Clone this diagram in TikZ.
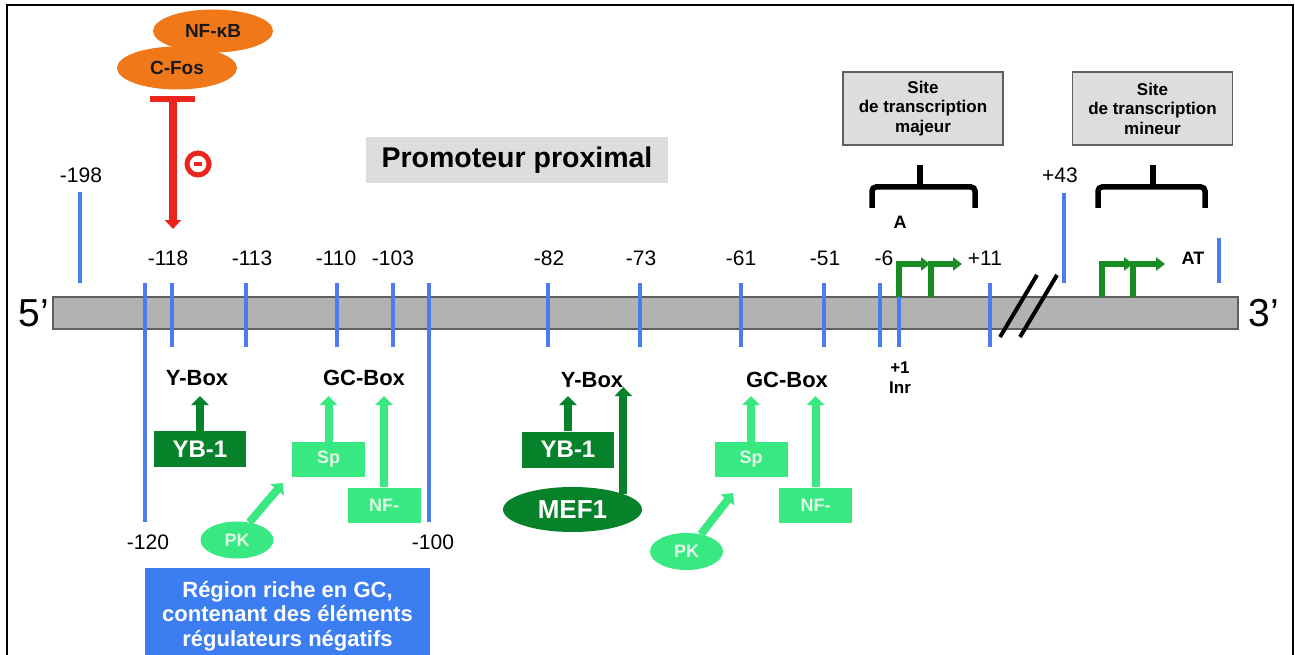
\documentclass[tikz,border=0pt]{standalone}
\usepackage{fontspec}
\setmainfont{Liberation Sans}
\usetikzlibrary{arrows.meta,shapes.geometric}

\definecolor{tickblue}{RGB}{74,124,240}
\definecolor{bargray}{RGB}{178,178,178}
\definecolor{bardark}{RGB}{95,95,95}
\definecolor{fosorange}{RGB}{240,120,24}
\definecolor{inhred}{RGB}{236,36,28}
\definecolor{darkgreen}{RGB}{6,130,42}
\definecolor{lightgreen}{RGB}{56,232,128}
\definecolor{paletext}{RGB}{225,252,232}
\definecolor{tssgreen}{RGB}{22,140,34}
\definecolor{boxblue}{RGB}{60,126,242}
\definecolor{boxgray}{RGB}{221,221,221}

\tikzset{
  bluetick/.style={tickblue, line width=4pt},
  posnum/.style={font=\fontsize{21}{25}\selectfont, inner sep=0pt},
  boxname/.style={font=\bfseries\fontsize{22}{26}\selectfont, inner sep=0pt},
  darkfactor/.style={fill=darkgreen, text=white, font=\bfseries\fontsize{24}{28}\selectfont, minimum width=92pt, minimum height=36pt, inner sep=0pt},
  lightfactor/.style={fill=lightgreen, text=paletext, font=\bfseries\fontsize{18}{21}\selectfont, minimum width=73pt, minimum height=35pt, inner sep=0pt},
  pkblob/.style={ellipse, fill=lightgreen, text=paletext, font=\bfseries\fontsize{18}{21}\selectfont, minimum width=73pt, minimum height=37pt, inner sep=0pt},
  orangeblob/.style={ellipse, fill=fosorange, text=black!90, font=\bfseries\fontsize{19}{22}\selectfont, minimum width=120pt, minimum height=43pt, inner sep=0pt},
  darkarrow/.style={darkgreen, line width=8pt, -{Triangle[width=17pt,length=9pt]}},
  lightarrow/.style={lightgreen, line width=8pt, -{Triangle[width=17pt,length=9pt]}},
  tssarrow/.style={tssgreen, line width=6pt, -{Triangle[width=13pt,length=9pt]}},
  inhibit/.style={inhred, line width=8pt, -{Triangle[width=16pt,length=9pt]}},
  sitebox/.style={draw=bardark, fill=boxgray, line width=1.5pt, minimum width=160pt, minimum height=73pt, align=center, font=\bfseries\fontsize{17}{19.5}\selectfont},
  bracket/.style={line width=5.5pt, rounded corners=4pt},
}

\begin{document}
\begin{tikzpicture}[x=1pt,y=-1pt]
\useasboundingbox (0,0) rectangle (1295,655);
\draw[line width=2.5pt] (7,665) -- (7,5) -- (1293,5) -- (1293,665);

\draw[draw=bardark, fill=bargray, line width=1.5pt] (53,297) rectangle (1238,329);
\node[font=\fontsize{39}{44}\selectfont, inner sep=0pt] (five) at (34,313) {5’};
\node[font=\fontsize{39}{44}\selectfont, inner sep=0pt] (three) at (1264,313) {3’};

\draw[bluetick] (80,192) -- (80,283);
\draw[bluetick] (145,283) -- (145,522);
\draw[bluetick] (172,283) -- (172,347);
\draw[bluetick] (246,283) -- (246,347);
\draw[bluetick] (337,283) -- (337,347);
\draw[bluetick] (393,283) -- (393,347);
\draw[bluetick] (429,283) -- (429,522);
\draw[bluetick] (548,283) -- (548,347);
\draw[bluetick] (640,283) -- (640,347);
\draw[bluetick] (741,283) -- (741,347);
\draw[bluetick] (824,283) -- (824,347);
\draw[bluetick] (880,283) -- (880,347);
\draw[bluetick] (899,283) -- (899,347);
\draw[bluetick] (990,283) -- (990,347);
\draw[bluetick] (1064,193) -- (1064,283);
\draw[bluetick] (1219,238) -- (1219,283);

\node[posnum] (p198) at (81,175) {-198};
\node[posnum] (p118) at (168,258) {-118};
\node[posnum] (p113) at (252,258) {-113};
\node[posnum] (p110) at (336,258) {-110};
\node[posnum] (p103) at (393,258) {-103};
\node[posnum] (p82) at (549,258) {-82};
\node[posnum] (p73) at (641,258) {-73};
\node[posnum] (p61) at (741,258) {-61};
\node[posnum] (p51) at (825,258) {-51};
\node[posnum] (p6) at (884,258) {-6};
\node[posnum] (p11) at (985,258) {+11};
\node[posnum] (p43) at (1060,175) {+43};
\node[posnum] (p120) at (148,542) {-120};
\node[posnum] (p100) at (433,542) {-100};

\draw[tssarrow] (899,297) |- (930,264);
\draw[tssarrow] (931,297) |- (962,264);
\draw[tssarrow] (1102,297) |- (1133,264);
\draw[tssarrow] (1133,297) |- (1165,264);

\draw[line width=4pt] (1000,337) -- (1037,275);
\draw[line width=4pt] (1020,337) -- (1057,275);

\node[fill=boxgray, minimum width=302pt, minimum height=46pt, inner sep=0pt, font=\bfseries\fontsize{28.5}{32}\selectfont] (prom) at (517,160.5) {Promoteur proximal};

\node[sitebox] (major) at (923,108.5) {Site\\de transcription\\majeur};
\node[sitebox] (minor) at (1152.5,108.5) {Site\\de transcription\\mineur};
\draw[bracket] (872,208) -- (872,187) -- (975,187) -- (975,208);
\draw[bracket] (920,188) -- (920,165);
\draw[bracket] (1098,208) -- (1098,187) -- (1205,187) -- (1205,208);
\draw[bracket] (1153,188) -- (1153,165);
\node[font=\bfseries\fontsize{18}{21}\selectfont, inner sep=0pt] (siteA) at (900,222) {A};
\node[font=\bfseries\fontsize{18}{21}\selectfont, inner sep=0pt] (siteAT) at (1193,258) {AT};
\node[align=center, font=\bfseries\fontsize{17}{20}\selectfont, inner sep=0pt] (inr) at (900,378) {+1\\Inr};

\node[orangeblob] (nfkb) at (213,31) {NF-κB};
\node[orangeblob] (cfos) at (177,68) {C-Fos};
\coordinate (inhtop) at (173,99);
\coordinate (inhend) at (173,229);
\draw[inhibit] (inhtop) -- (inhend);
\draw[inhred, line width=6pt] ([xshift=-23pt]inhtop) -- ([xshift=22pt]inhtop);
\node[draw=inhred, line width=5pt, circle, minimum size=22pt, inner sep=0pt] (minus) at (198,164) {};
\draw[inhred, line width=4pt] ([xshift=-4pt]minus.center) -- ([xshift=4pt]minus.center);

\node[boxname] (ybox1) at (197,378) {Y-Box};
\node[boxname] (gcbox1) at (364,378) {GC-Box};
\node[boxname] (ybox2) at (592,380) {Y-Box};
\node[boxname] (gcbox2) at (787,380) {GC-Box};
\coordinate (boxrow) at (0,396);
\coordinate (mefrow) at (0,387);

\node[darkfactor] (yb1a) at (200,449) {YB-1};
\node[lightfactor] (sp1) at (328.5,459.5) {Sp};
\node[lightfactor] (nf1) at (384,505) {NF-};
\node[pkblob] (pk1) at (237,540) {PK};
\coordinate (pk1to) at (283,483);
\draw[darkarrow] (yb1a.north) -- (yb1a.north |- boxrow);
\draw[lightarrow] (sp1.north) -- (sp1.north |- boxrow);
\draw[lightarrow] (nf1.north) -- (nf1.north |- boxrow);
\draw[lightarrow] (pk1.55) -- (pk1to);

\node[darkfactor] (yb1b) at (568,449.5) {YB-1};
\node[ellipse, fill=darkgreen, text=white, font=\bfseries\fontsize{26}{30}\selectfont, minimum width=139pt, minimum height=45pt, inner sep=0pt] (mef1) at (572.5,509.5) {MEF1};
\node[lightfactor] (sp2) at (751,459.5) {Sp};
\node[lightfactor] (nf2) at (815.5,505) {NF-};
\node[pkblob] (pk2) at (686.5,551.5) {PK};
\coordinate (pk2to) at (733,493);
\draw[darkarrow] (yb1b.north) -- (yb1b.north |- boxrow);
\draw[darkarrow] (mef1.17) -- (mef1.17 |- mefrow);
\draw[lightarrow] (sp2.north) -- (sp2.north |- boxrow);
\draw[lightarrow] (nf2.north) -- (nf2.north |- boxrow);
\draw[lightarrow] (pk2.50) -- (pk2to);

\node[fill=boxblue, text=white, minimum width=285pt, minimum height=96pt, inner sep=0pt, align=center, font=\bfseries\fontsize{22}{24.5}\selectfont] (gcrich) at (287.5,616) {Région riche en GC,\\contenant des éléments\\régulateurs négatifs};

\end{tikzpicture}
\end{document}
